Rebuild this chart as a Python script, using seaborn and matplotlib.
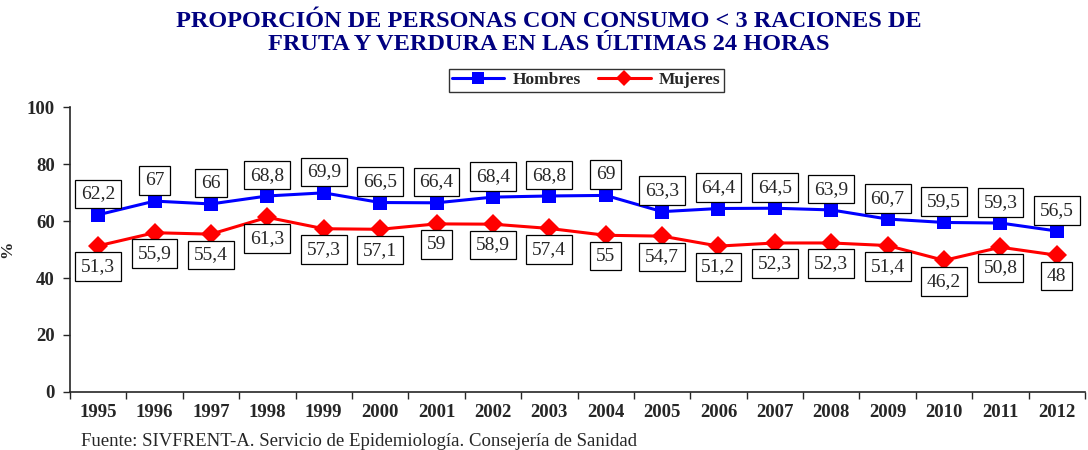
import pandas as pd
import matplotlib.pyplot as plt
import seaborn as sns

# Data
years = ["1995", "1996", "1997", "1998", "1999", "2000", "2001", "2002", "2003",
         "2004", "2005", "2006", "2007", "2008", "2009", "2010", "2011", "2012"]
hombres = [62.2, 67, 66, 68.8, 69.9, 66.5, 66.4, 68.4, 68.8,
           69, 63.3, 64.4, 64.5, 63.9, 60.7, 59.5, 59.3, 56.5]
mujeres = [51.3, 55.9, 55.4, 61.3, 57.3, 57.1, 59, 58.9, 57.4,
           55, 54.7, 51.2, 52.3, 52.3, 51.4, 46.2, 50.8, 48]

df = pd.DataFrame({
    "pos": list(range(len(years))) * 2,
    "valor": hombres + mujeres,
    "sexo": ["Hombres"] * len(years) + ["Mujeres"] * len(years),
})

sns.set_style("ticks")
plt.rcParams["font.family"] = ["Liberation Serif", "DejaVu Serif"]

fig = plt.figure(figsize=(10.88, 4.5), dpi=100)
ax = fig.add_axes([0.0643, 0.129, 0.933, 0.633])

sns.lineplot(data=df, x="pos", y="valor", hue="sexo", style="sexo",
             palette={"Hombres": "#0000ff", "Mujeres": "#ff0000"},
             markers={"Hombres": "s", "Mujeres": "D"}, dashes=False,
             markersize=10, markeredgewidth=0, linewidth=2.2, ax=ax, legend=True)

# Data labels
box = dict(boxstyle="square,pad=0.3", fc="white", ec="black", lw=0.9)
for i, v in enumerate(hombres):
    ax.annotate(f"{v:g}".replace(".", ","), (i, v), xytext=(0, 15),
                textcoords="offset points", ha="center", va="center",
                fontsize=14, bbox=box)
for i, v in enumerate(mujeres):
    ax.annotate(f"{v:g}".replace(".", ","), (i, v), xytext=(0, -15),
                textcoords="offset points", ha="center", va="center",
                fontsize=14, bbox=box)

ax.set_xlim(-0.5, len(years) - 0.5)
ax.set_ylim(0, 100)
ax.set_yticks([0, 20, 40, 60, 80, 100])
ax.set_xticks(range(len(years)))
ax.set_xticklabels(years)
ax.set_xticks([i - 0.5 for i in range(len(years) + 1)], minor=True)
ax.tick_params(axis="x", which="major", length=0, pad=9)
ax.tick_params(axis="x", which="minor", length=5, width=1)
ax.tick_params(axis="y", length=5, width=1, pad=6)
for lab in ax.get_xticklabels() + ax.get_yticklabels():
    lab.set_fontweight("bold")
    lab.set_fontsize(13.5)
ax.set_xlabel("")
ax.set_ylabel("%", fontweight="bold", fontsize=12.5)
ax.yaxis.set_label_coords(-0.054, 0.5)
sns.despine(ax=ax)
for s in ["left", "bottom"]:
    ax.spines[s].set_linewidth(1.2)

# Legend
ax.get_legend().remove()
handles, labels = ax.get_legend_handles_labels()
for h in handles:
    h.set_markersize(8)
leg = fig.legend(handles, labels, loc="center", bbox_to_anchor=(0.539, 0.822), ncol=2,
                 frameon=True, fancybox=False, edgecolor="black",
                 prop={"weight": "bold", "size": 12.5}, handlelength=3,
                 borderpad=0.2, columnspacing=1.0, handletextpad=0.5)
leg.get_frame().set_linewidth(1.0)

fig.text(0.504, 0.952, "PROPORCIÓN DE PERSONAS CON CONSUMO < 3 RACIONES DE",
         ha="center", va="center", fontsize=17.5, fontweight="bold", color="#000080")
fig.text(0.504, 0.902, "FRUTA Y VERDURA EN LAS ÚLTIMAS 24 HORAS",
         ha="center", va="center", fontsize=17.5, fontweight="bold", color="#000080")
fig.text(0.074, 0.02, "Fuente: SIVFRENT-A. Servicio de Epidemiología. Consejería de Sanidad",
         ha="left", va="center", fontsize=13.5)

fig.savefig("out.png", dpi=100)
